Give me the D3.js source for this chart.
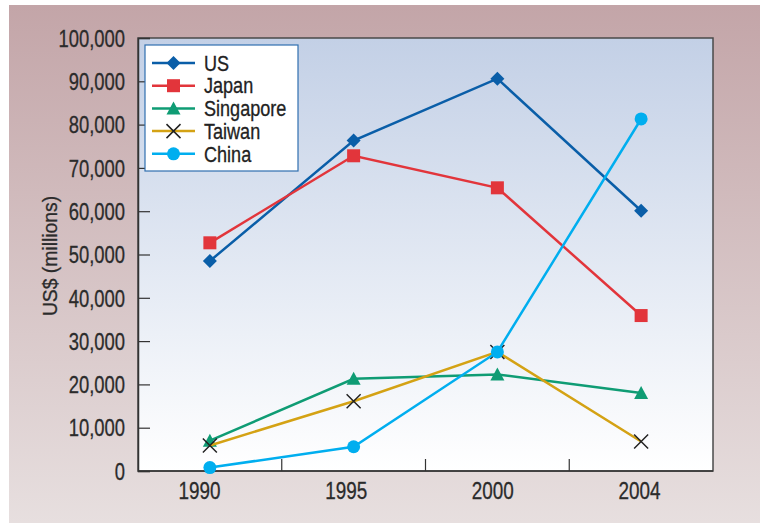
<!DOCTYPE html>
<html><head><meta charset="utf-8">
<script src="https://cdn.jsdelivr.net/npm/d3@7"></script>
<style>body{margin:0;background:#fff}svg{display:block}text{font-family:"Liberation Sans",Arial,sans-serif}</style>
</head><body><svg id="c" width="760" height="523"></svg>
<script>
const years = ["1990","1995","2000","2004"];
const seriesNames = ["US","Japan","Singapore","Taiwan","China"];
const usValues = [48500, 76300, 90600, 60100];
const japanValues = [52700, 72800, 65400, 35900];
const singaporeValues = [7000, 21300, 22300, 18000];
const taiwanValues = [5900, 16100, 27500, 6800];
const chinaValues = [800, 5600, 27500, 81300];
const yTicks = [0,10000,20000,30000,40000,50000,60000,70000,80000,90000,100000];

const colors = {US:"#0a5ea8",Japan:"#e2353b",Singapore:"#0f9c74",Taiwan:"#d4a214",China:"#00aeef"};
const markers = {US:"diamond",Japan:"square",Singapore:"triangle",Taiwan:"cross",China:"circle"};
const series = [
  {name:"US",values:usValues},
  {name:"Japan",values:japanValues},
  {name:"Singapore",values:singaporeValues},
  {name:"Taiwan",values:taiwanValues},
  {name:"China",values:chinaValues}
];

function condense(sel, f){
  sel.each(function(){
    const w = this.getComputedTextLength();
    this.setAttribute("textLength", (w*f).toFixed(1));
    this.setAttribute("lengthAdjust","spacingAndGlyphs");
  });
  sel.attr("stroke", function(){ return this.getAttribute("fill"); }).attr("stroke-width",0.3);
}

const svg = d3.select("#c");
const defs = svg.append("defs");
const bg = defs.append("linearGradient").attr("id","bg").attr("x1",0).attr("y1",0).attr("x2",0).attr("y2",1);
bg.append("stop").attr("offset","0%").attr("stop-color","#c3a5a8");
bg.append("stop").attr("offset","100%").attr("stop-color","#e7dfdf");
const pg = defs.append("linearGradient").attr("id","pg").attr("x1",0).attr("y1",0).attr("x2",0).attr("y2",1);
pg.append("stop").attr("offset","0%").attr("stop-color","#c3d0e6");
pg.append("stop").attr("offset","100%").attr("stop-color","#ffffff");

svg.append("rect").attr("x",9).attr("y",5).attr("width",751).attr("height",518).attr("fill","url(#bg)");

const m = {l:138, t:38, r:713, b:471};
const x = d3.scaleBand().domain(years).range([m.l, m.r]);
const xLabel = d3.scalePoint().domain(years).range([199, 639]);
const y = d3.scaleLinear().domain([0,100000]).range([m.b, m.t]);

svg.append("rect").attr("x",m.l).attr("y",m.t).attr("width",m.r-m.l).attr("height",m.b-m.t)
  .attr("fill","url(#pg)").attr("stroke","#4a4a4a").attr("stroke-width",1.5);

// y axis
const yAxis = svg.append("g").attr("transform",`translate(${m.l},0)`)
  .call(d3.axisRight(y).tickValues(yTicks).tickSize(12).tickFormat(d3.format(",")));
yAxis.select(".domain").attr("stroke","#333").attr("stroke-width",1.5);
yAxis.selectAll(".tick line").attr("stroke","#333").attr("stroke-width",1.2);
yAxis.selectAll(".tick text").attr("x",-13).attr("dy","0.36em").attr("text-anchor","end").attr("font-size",23).attr("fill","#2b2b2b")
  .call(condense, 0.80);

// x axis line
svg.append("line").attr("x1",m.l).attr("x2",m.r).attr("y1",m.b).attr("y2",m.b).attr("stroke","#333").attr("stroke-width",1.5);
// x labels
const xAxis = svg.append("g").attr("transform",`translate(0,${m.b})`)
  .call(d3.axisBottom(xLabel).tickSize(0).tickPadding(12));
xAxis.select(".domain").remove();
xAxis.selectAll(".tick text").attr("font-size",23).attr("fill","#2b2b2b").call(condense, 0.82);
const bounds = years.slice(1).map(yr => x(yr));
svg.append("g").selectAll("line").data(bounds).join("line")
  .attr("x1",d=>d).attr("x2",d=>d).attr("y1",m.b).attr("y2",m.b-12)
  .attr("stroke","#333").attr("stroke-width",1.2);

svg.append("text").attr("transform",`translate(57,256) rotate(-90)`).attr("text-anchor","middle")
  .attr("font-size",21).attr("fill","#2b2b2b").text("US$ (millions)").call(condense, 0.92);

function drawMarker(g, type, cx, cy, color){
  if(type==="diamond"){
    g.append("path").attr("d",`M${cx},${cy-7}L${cx+7},${cy}L${cx},${cy+7}L${cx-7},${cy}Z`).attr("fill",color);
  } else if(type==="square"){
    g.append("rect").attr("x",cx-6.5).attr("y",cy-6.5).attr("width",13).attr("height",13).attr("fill",color);
  } else if(type==="triangle"){
    g.append("path").attr("d",`M${cx},${cy-7}L${cx+7},${cy+6}L${cx-7},${cy+6}Z`).attr("fill",color);
  } else if(type==="cross"){
    g.append("path").attr("d",`M${cx-7},${cy-7}L${cx+7},${cy+7}M${cx+7},${cy-7}L${cx-7},${cy+7}`)
      .attr("stroke","#222").attr("stroke-width",1.5).attr("fill","none");
  } else if(type==="circle"){
    g.append("circle").attr("cx",cx).attr("cy",cy).attr("r",6.5).attr("fill",color);
  }
}

const line = d3.line().x((d,i)=>x(years[i])+x.bandwidth()/2).y(d=>y(d));
series.forEach(s=>{
  const g = svg.append("g");
  g.append("path").attr("d",line(s.values)).attr("fill","none").attr("stroke",colors[s.name]).attr("stroke-width",2.5);
  s.values.forEach((v,i)=>drawMarker(g, markers[s.name], x(years[i])+x.bandwidth()/2, y(v), colors[s.name]));
});

// legend
const lg = svg.append("g");
lg.append("rect").attr("x",145).attr("y",45).attr("width",153).attr("height",126)
  .attr("fill","#fff").attr("stroke","#2f6fb0").attr("stroke-width",1.2);
seriesNames.forEach((n,i)=>{
  const cy = 63 + i*22.7;
  lg.append("line").attr("x1",152).attr("x2",195).attr("y1",cy).attr("y2",cy).attr("stroke",colors[n]).attr("stroke-width",2.5);
  drawMarker(lg, markers[n], 173.5, cy, colors[n]);
  lg.append("text").attr("x",204).attr("y",cy).attr("dy","0.36em").attr("font-size",21.5).attr("fill","#222").text(n).call(condense, 0.84);
});
</script></body></html>
